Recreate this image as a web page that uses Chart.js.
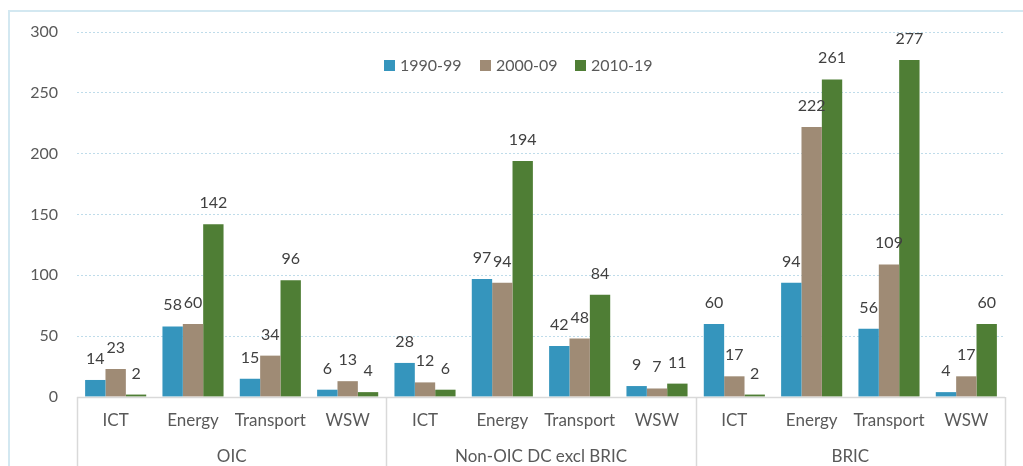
<!DOCTYPE html>
<html>
<head>
<meta charset="utf-8">
<script src="https://cdn.jsdelivr.net/npm/chart.js@4.4.1/dist/chart.umd.min.js"></script>
<style>
html,body{margin:0;padding:0;background:#fff;}
#wrap{position:relative;width:1023px;height:466px;}
</style>
</head>
<body>
<div id="wrap"><canvas id="c" width="1023" height="466"></canvas></div>
<script>
const groups = ['OIC', 'Non-OIC DC excl BRIC', 'BRIC'];
const sectors = ['ICT', 'Energy', 'Transport', 'WSW'];
const seriesNames = ['1990-99', '2000-09', '2010-19'];
const s1990 = [14, 58, 15, 6, 28, 97, 42, 9, 60, 94, 56, 4];
const s2000 = [23, 60, 34, 13, 12, 94, 48, 7, 17, 222, 109, 17];
const s2010 = [2, 142, 96, 4, 6, 194, 84, 11, 2, 261, 277, 60];
const yTicks = [0, 50, 100, 150, 200, 250, 300];

const colors = ['#3595bd', '#9f8b75', '#4f7e35'];
const FONT = 'Lato, "Open Sans", sans-serif';
const TXT = '#595959';

const labels = [];
groups.forEach(() => sectors.forEach(s => labels.push(s)));

const framePlugin = {
  id: 'frame',
  beforeDraw(chart) {
    const ctx = chart.ctx;
    ctx.save();
    ctx.strokeStyle = '#d3e8f1';
    ctx.lineWidth = 2;
    ctx.beginPath();
    ctx.moveTo(9, 466);
    ctx.lineTo(9, 11);
    ctx.lineTo(1023, 11);
    ctx.stroke();
    ctx.restore();
  }
};

const axisPlugin = {
  id: 'axisGroups',
  afterDraw(chart) {
    const ctx = chart.ctx;
    const ca = chart.chartArea;
    const step = (ca.right - ca.left) / labels.length;
    ctx.save();
    ctx.strokeStyle = '#d9d9d9';
    ctx.lineWidth = 1.5;
    ctx.beginPath();
    ctx.moveTo(ca.left, ca.bottom + 0.5);
    ctx.lineTo(ca.right, ca.bottom + 0.5);
    for (let g = 0; g <= groups.length; g++) {
      const xx = Math.round(ca.left + g * sectors.length * step) + 0.5;
      ctx.moveTo(xx, ca.bottom);
      ctx.lineTo(xx, 466);
    }
    ctx.stroke();
    ctx.fillStyle = TXT;
    ctx.font = '17px ' + FONT;
    ctx.textAlign = 'center';
    ctx.textBaseline = 'middle';
    groups.forEach((g, i) => {
      const cx = ca.left + (i + 0.5) * sectors.length * step;
      ctx.fillText(g, cx, 457);
    });
    ctx.restore();
  }
};

const labelPlugin = {
  id: 'valueLabels',
  afterDatasetsDraw(chart) {
    const ctx = chart.ctx;
    ctx.save();
    ctx.fillStyle = '#404040';
    ctx.font = '16px ' + FONT;
    ctx.textAlign = 'center';
    ctx.textBaseline = 'alphabetic';
    chart.data.datasets.forEach((ds, di) => {
      const meta = chart.getDatasetMeta(di);
      meta.data.forEach((bar, i) => {
        ctx.fillText(String(ds.data[i]), bar.x, bar.y - 16);
      });
    });
    ctx.restore();
  }
};

const legendPlugin = {
  id: 'customLegend',
  afterDraw(chart) {
    const ctx = chart.ctx;
    ctx.save();
    ctx.font = '16px ' + FONT;
    ctx.textBaseline = 'middle';
    ctx.textAlign = 'left';
    const starts = [384, 480, 575];
    chart.data.datasets.forEach((ds, i) => {
      const x0 = starts[i];
      ctx.fillStyle = ds.backgroundColor;
      ctx.fillRect(x0, 60, 11, 11);
      ctx.fillStyle = TXT;
      ctx.fillText(ds.label, x0 + 16, 66);
    });
    ctx.restore();
  }
};

new Chart(document.getElementById('c'), {
  type: 'bar',
  data: {
    labels: labels,
    datasets: [
      { label: seriesNames[0], data: s1990, backgroundColor: colors[0] },
      { label: seriesNames[1], data: s2000, backgroundColor: colors[1] },
      { label: seriesNames[2], data: s2010, backgroundColor: colors[2] }
    ]
  },
  options: {
    responsive: false,
    animation: false,
    devicePixelRatio: 1,
    layout: { padding: { left: 0, right: 18, top: 32, bottom: 0 } },
    datasets: { bar: { categoryPercentage: 0.79, barPercentage: 1.0 } },
    plugins: { legend: { display: false }, tooltip: { enabled: false } },
    scales: {
      x: {
        grid: { display: false, drawTicks: false },
        border: { display: false },
        ticks: { color: TXT, font: { family: FONT, size: 17 }, padding: 13, maxRotation: 0, autoSkip: false },
        afterFit(scale) { scale.height = 69; }
      },
      y: {
        min: 0, max: 300,
        afterBuildTicks(scale) { scale.ticks = yTicks.map(v => ({ value: v })); },
        grid: {
          drawTicks: false,
          color: ctx => ctx.tick && ctx.tick.value === 0 ? 'rgba(0,0,0,0)' : '#bfdcea',
          lineWidth: 1
        },
        border: { display: false, dash: [2, 2] },
        ticks: { color: TXT, font: { family: FONT, size: 16 }, padding: 19 },
        afterFit(scale) { scale.width = 77; }
      }
    }
  },
  plugins: [framePlugin, axisPlugin, labelPlugin, legendPlugin]
});
</script>
</body>
</html>
